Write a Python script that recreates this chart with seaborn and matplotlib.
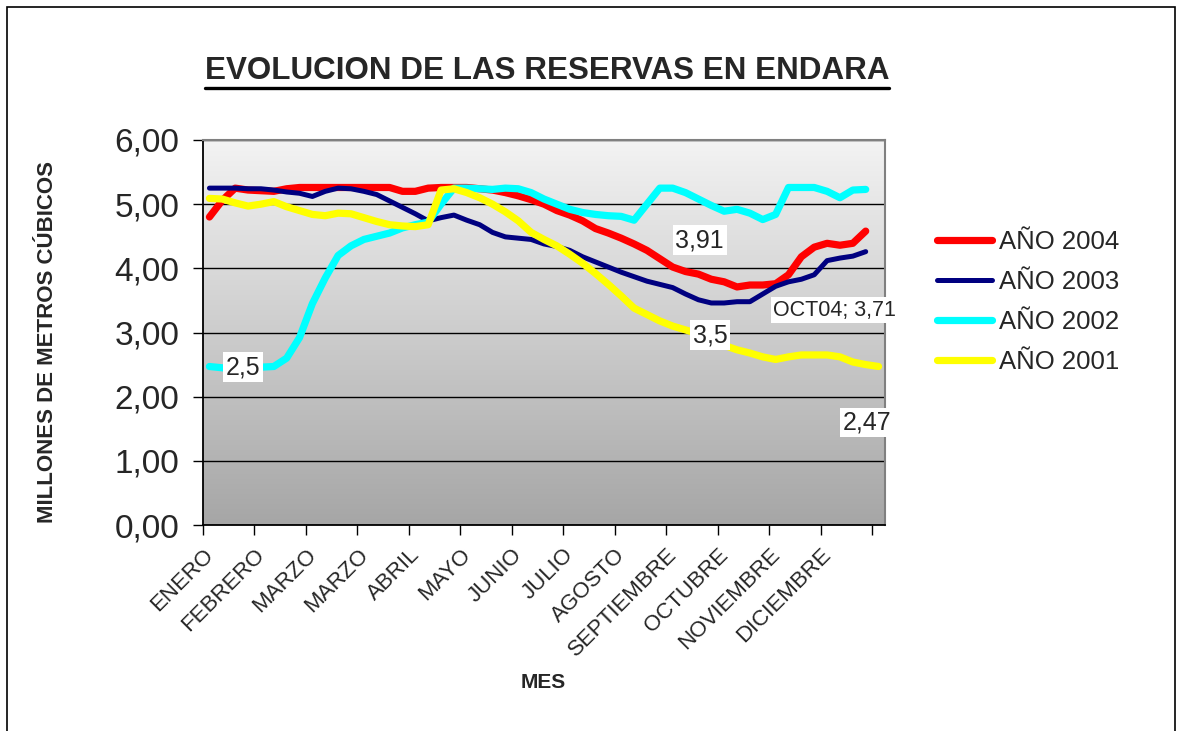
import matplotlib
matplotlib.use("Agg")
import matplotlib.pyplot as plt
import numpy as np
import pandas as pd
import seaborn as sns
from matplotlib.colors import LinearSegmentedColormap
from matplotlib.lines import Line2D
from matplotlib.patches import Rectangle

# weekly reserve levels (millions of m3)
anio_2004 = [4.80, 5.06, 5.25, 5.22, 5.21, 5.20, 5.24, 5.26, 5.26, 5.26, 5.26, 5.26, 5.26, 5.26,
             5.26, 5.20, 5.20, 5.25, 5.26, 5.26, 5.26, 5.24, 5.22, 5.18, 5.13, 5.07, 5.00, 4.90,
             4.83, 4.74, 4.62, 4.55, 4.47, 4.38, 4.28, 4.15, 4.02, 3.95, 3.91, 3.83, 3.79, 3.71,
             3.74, 3.74, 3.76, 3.90, 4.18, 4.33, 4.39, 4.36, 4.39, 4.58]
anio_2003 = [5.25, 5.25, 5.25, 5.24, 5.24, 5.22, 5.19, 5.17, 5.12, 5.20, 5.25, 5.24, 5.20, 5.15,
             5.05, 4.95, 4.85, 4.74, 4.79, 4.83, 4.75, 4.68, 4.56, 4.49, 4.47, 4.45, 4.38, 4.34,
             4.28, 4.18, 4.10, 4.02, 3.94, 3.87, 3.80, 3.75, 3.70, 3.60, 3.51, 3.46, 3.46, 3.48,
             3.48, 3.60, 3.72, 3.79, 3.83, 3.90, 4.12, 4.16, 4.19, 4.26]
anio_2002 = [2.47, 2.45, 2.43, 2.45, 2.46, 2.47, 2.60, 2.92, 3.45, 3.85, 4.20, 4.35, 4.45, 4.50,
             4.55, 4.63, 4.68, 4.72, 5.00, 5.25, 5.25, 5.24, 5.23, 5.25, 5.24, 5.18, 5.08, 5.00,
             4.92, 4.87, 4.84, 4.82, 4.81, 4.75, 5.00, 5.25, 5.25, 5.18, 5.08, 4.98, 4.89, 4.92,
             4.86, 4.76, 4.84, 5.26, 5.26, 5.26, 5.20, 5.10, 5.22, 5.23]
anio_2001 = [5.09, 5.08, 5.02, 4.97, 5.00, 5.04, 4.96, 4.90, 4.84, 4.82, 4.86, 4.85, 4.79, 4.73,
             4.68, 4.66, 4.65, 4.68, 5.22, 5.24, 5.18, 5.10, 5.00, 4.88, 4.74, 4.56, 4.45, 4.35,
             4.22, 4.08, 3.92, 3.75, 3.57, 3.38, 3.28, 3.18, 3.10, 3.04, 2.98, 2.90, 2.80, 2.73,
             2.68, 2.62, 2.58, 2.62, 2.65, 2.65, 2.65, 2.62, 2.54, 2.50, 2.47]

series_names = ['AÑO 2004', 'AÑO 2003', 'AÑO 2002', 'AÑO 2001']
series_colors = ['#ff0000', '#000080', '#00ffff', '#ffff00']
series_widths = [5.2, 3.6, 5.2, 5.2]

meses = ['ENERO', 'FEBRERO', 'MARZO', 'MARZO', 'ABRIL', 'MAYO', 'JUNIO', 'JULIO',
         'AGOSTO', 'SEPTIEMBRE', 'OCTUBRE', 'NOVIEMBRE', 'DICIEMBRE']
y_ticks = [0, 1, 2, 3, 4, 5, 6]
y_ticklabels = ['0,00', '1,00', '2,00', '3,00', '4,00', '5,00', '6,00']

# data labels: (text, x index, y value, font size)
etiquetas = [('2,5', 2.6, 2.46, 18), ('3,91', 38.1, 4.44, 18), ('3,5', 38.9, 2.96, 18),
             ('OCT04; 3,71', 48.6, 3.35, 15.5), ('2,47', 51.1, 1.60, 18)]

frames = []
for name, vals in zip(series_names, [anio_2004, anio_2003, anio_2002, anio_2001]):
    frames.append(pd.DataFrame({'semana': np.arange(len(vals)), 'reserva': vals, 'serie': name}))
df = pd.concat(frames, ignore_index=True)

sns.set_style('white')
plt.rcParams['font.family'] = ['Liberation Sans', 'DejaVu Sans']

fig = plt.figure(figsize=(11.82, 7.31), dpi=100)
ax = fig.add_axes([203 / 1182, 1 - 525 / 731, 682 / 1182, 385 / 731])

n_cat = 53
# gray gradient background of the plot area
grad = np.linspace(0, 1, 256).reshape(-1, 1)
cmap = LinearSegmentedColormap.from_list('fondo', ['#a6a6a6', '#f3f3f3'])
ax.imshow(grad, extent=[-0.5, n_cat - 0.5, 0, 6], aspect='auto', cmap=cmap,
          origin='lower', zorder=0, interpolation='bicubic')

for name, col, lw in zip(series_names, series_colors, series_widths):
    sub = df[df['serie'] == name]
    sns.lineplot(data=sub, x='semana', y='reserva', color=col, linewidth=lw,
                 ax=ax, label=name, zorder=3, solid_capstyle='round', solid_joinstyle='round')

ax.set_xlim(-0.5, n_cat - 0.5)
ax.set_ylim(0, 6)
ax.set_yticks(y_ticks)
ax.set_yticklabels(y_ticklabels, fontsize=24)
ax.yaxis.grid(True, color='black', linewidth=1.0, zorder=1)
ax.set_axisbelow(True)

xt = [-0.5 + 4 * k for k in range(14)]
ax.set_xticks(xt)
ax.set_xticklabels(meses + [''], rotation=45, ha='right', rotation_mode='anchor', fontsize=16)
ax.tick_params(axis='x', direction='out', length=7, width=1, color='black', pad=7)
ax.tick_params(axis='y', direction='out', length=7, width=1, color='black', pad=10)
ax.xaxis.set_ticks_position('bottom')
ax.yaxis.set_ticks_position('left')

for side in ['left', 'bottom']:
    ax.spines[side].set_color('black')
    ax.spines[side].set_linewidth(1.3)
for side in ['top', 'right']:
    ax.spines[side].set_color('#808080')
    ax.spines[side].set_linewidth(1.5)

ax.set_xlabel('MES', fontsize=15, fontweight='bold')
ax.xaxis.set_label_coords(0.4985, -0.385)
ax.set_ylabel('MILLONES DE METROS CÚBICOS', fontsize=16, fontweight='bold')
ax.yaxis.set_label_coords(-0.212, 0.475)

for txt, xi, yv, fs in etiquetas:
    ax.text(xi, yv, txt, fontsize=fs, ha='center', va='center', zorder=5, clip_on=False,
            bbox=dict(facecolor='white', edgecolor='none', pad=2))

ax.get_legend().remove()
handles = [Line2D([0], [0], color=c, linewidth=w, solid_capstyle='round')
           for c, w in zip(series_colors, series_widths)]
fig.legend(handles, series_names, loc='center left', bbox_to_anchor=(914 / 1182, 1 - 302 / 731),
           frameon=False, fontsize=18.5, handlelength=2.15, handletextpad=0.25, labelspacing=0.62)

t = fig.text(547 / 1182, 1 - 71 / 731, 'EVOLUCION DE LAS RESERVAS EN ENDARA',
             fontsize=22.6, fontweight='bold', ha='center', va='center')
fig.canvas.draw()
bb = t.get_window_extent()
yline = (bb.y0 - 2) / fig.bbox.height
fig.add_artist(Line2D([bb.x0 / fig.bbox.width, bb.x1 / fig.bbox.width], [yline, yline],
                      color='black', linewidth=2.4, transform=fig.transFigure))

fig.add_artist(Rectangle((7 / 1182, -0.1), (1175 - 7) / 1182, 1.1 - 7 / 731,
                         transform=fig.transFigure, fill=False, edgecolor='black', linewidth=1.2))

fig.savefig('out.png', dpi=100)
